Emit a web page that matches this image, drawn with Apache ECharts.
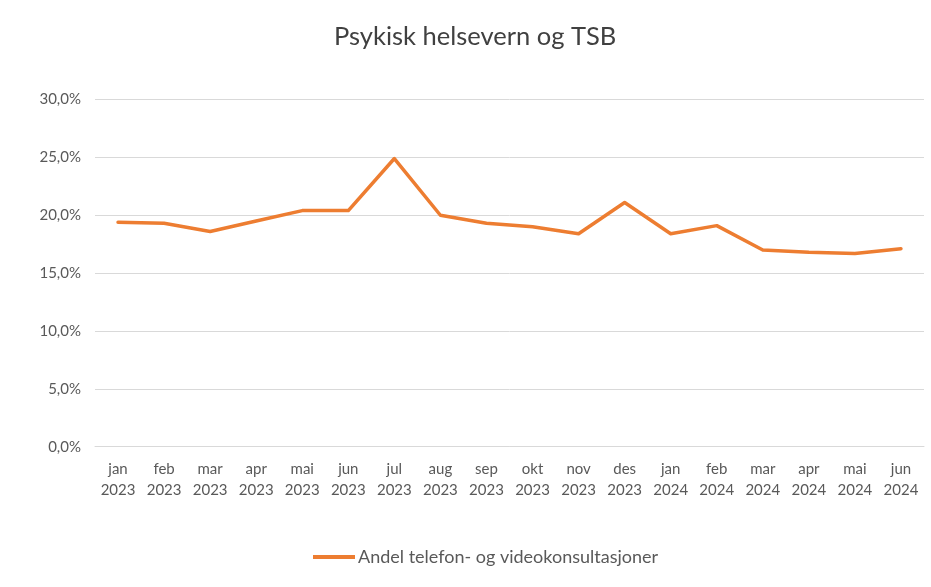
<!DOCTYPE html>
<html><head><meta charset="utf-8">
<script src="https://cdn.jsdelivr.net/npm/echarts@6/dist/echarts.min.js"></script>
<style>html,body{margin:0;padding:0;background:#fff}#c{width:931px;height:587px}</style>
</head><body><div id="c"></div>
<script>
var months = ['jan','feb','mar','apr','mai','jun','jul','aug','sep','okt','nov','des','jan','feb','mar','apr','mai','jun'];
var years = ['2023','2023','2023','2023','2023','2023','2023','2023','2023','2023','2023','2023','2024','2024','2024','2024','2024','2024'];
var andel = [19.4, 19.3, 18.6, 19.5, 20.4, 20.4, 24.9, 20.0, 19.3, 19.0, 18.4, 21.1, 18.4, 19.1, 17.0, 16.8, 16.7, 17.1];
var seriesName = 'Andel telefon- og videokonsultasjoner';
var titleText = 'Psykisk helsevern og TSB';

var categories = months.map(function(m,i){return m+'\n'+years[i];});
var font = 'Lato, "Liberation Sans", sans-serif';
var chart = echarts.init(document.getElementById('c'));
chart.setOption({
  animation:false,
  title:{text:titleText,left:329,top:19,textStyle:{fontFamily:font,fontSize:25.5,fontWeight:'normal',color:'#404040'}},
  grid:{left:95,right:7,top:99.5,bottom:140.3},
  legend:{bottom:16,left:308,itemWidth:42,itemHeight:4,itemGap:0,icon:'rect',
    textStyle:{fontFamily:font,fontSize:18,color:'#595959',padding:[0,0,0,-2]},data:[seriesName]},
  xAxis:{type:'category',data:categories,boundaryGap:true,
    axisLine:{show:true,lineStyle:{color:'#d9d9d9',width:1}},axisTick:{show:false},
    axisLabel:{fontFamily:font,fontSize:15,color:'#595959',lineHeight:21,margin:12,interval:0}},
  yAxis:{type:'value',min:0,max:30,interval:5,
    axisLine:{show:false},axisTick:{show:false},
    splitLine:{lineStyle:{color:'#d9d9d9',width:1}},
    axisLabel:{fontFamily:font,fontSize:15,color:'#595959',margin:14,
      formatter:function(v){return v.toFixed(1).replace('.',',')+'%';}}},
  series:[{name:seriesName,type:'line',data:andel,symbol:'none',
    lineStyle:{color:'#ED7D31',width:3.5,cap:'round',join:'round'},itemStyle:{color:'#ED7D31'}}]
});
</script></body></html>
